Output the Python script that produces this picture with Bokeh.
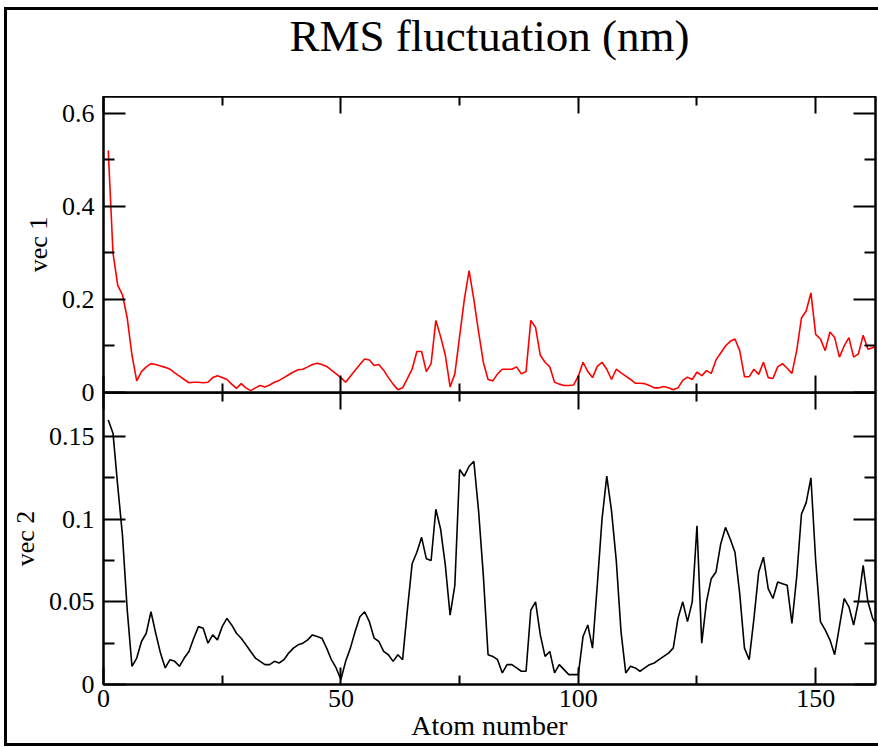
from bokeh.plotting import figure
from bokeh.layouts import column
from bokeh.models import Range1d, LinearAxis, FixedTicker
from bokeh.embed import file_html
from bokeh.resources import INLINE

# ---------------- data ----------------
atoms = list(range(1, 164))

vec1 = [
    0.52, 0.30, 0.23, 0.21, 0.16, 0.08, 0.025, 0.045, 0.055, 0.062,
    0.06, 0.057, 0.054, 0.05, 0.042, 0.035, 0.028, 0.021, 0.022, 0.022,
    0.021, 0.022, 0.032, 0.036, 0.032, 0.028, 0.018, 0.009, 0.019, 0.01,
    0.004, 0.01, 0.015, 0.012, 0.016, 0.022, 0.026, 0.032, 0.038, 0.044,
    0.049, 0.05, 0.055, 0.06, 0.063, 0.06, 0.056, 0.048, 0.04, 0.032,
    0.022, 0.035, 0.048, 0.06, 0.072, 0.07, 0.058, 0.06, 0.048, 0.032,
    0.018, 0.006, 0.01, 0.03, 0.05, 0.088, 0.088, 0.045, 0.062, 0.155,
    0.12, 0.08, 0.012, 0.04, 0.12, 0.2, 0.262, 0.2, 0.13, 0.065,
    0.028, 0.025, 0.04, 0.05, 0.05, 0.05, 0.055, 0.04, 0.045, 0.155,
    0.14, 0.08, 0.065, 0.055, 0.022, 0.018, 0.015, 0.015, 0.016, 0.035,
    0.065, 0.045, 0.032, 0.056, 0.065, 0.05, 0.028, 0.05, 0.042, 0.035,
    0.028, 0.02, 0.02, 0.019, 0.015, 0.01, 0.01, 0.013, 0.01, 0.006,
    0.01, 0.026, 0.033, 0.028, 0.044, 0.036, 0.047, 0.041, 0.07, 0.085,
    0.1, 0.11, 0.115, 0.09, 0.034, 0.034, 0.05, 0.039, 0.065, 0.032,
    0.03, 0.055, 0.062, 0.052, 0.041, 0.09, 0.16, 0.175, 0.214, 0.125,
    0.115, 0.09, 0.13, 0.118, 0.076, 0.1, 0.118, 0.076, 0.083, 0.123,
    0.093, 0.096, 0.103,
]

vec2 = [
    0.16, 0.152, 0.12, 0.09, 0.045, 0.011, 0.016, 0.026, 0.031, 0.044,
    0.031, 0.019, 0.01, 0.015, 0.014, 0.011, 0.016, 0.02, 0.028, 0.035,
    0.034, 0.025, 0.03, 0.027, 0.035, 0.04, 0.036, 0.031, 0.028, 0.024,
    0.02, 0.016, 0.014, 0.012, 0.012, 0.014, 0.013, 0.015, 0.019, 0.022,
    0.024, 0.025, 0.027, 0.03, 0.029, 0.028, 0.022, 0.015, 0.01, 0.003,
    0.014, 0.022, 0.032, 0.041, 0.044, 0.038, 0.028, 0.026, 0.02, 0.018,
    0.014, 0.018, 0.015, 0.045, 0.073, 0.08, 0.089, 0.076, 0.075, 0.106,
    0.094, 0.072, 0.042, 0.06, 0.13, 0.126, 0.132, 0.135, 0.105, 0.066,
    0.018, 0.017, 0.015, 0.007, 0.012, 0.012, 0.01, 0.008, 0.008, 0.045,
    0.05, 0.03, 0.017, 0.02, 0.007, 0.012, 0.009, 0.006, 0.006, 0.006,
    0.029, 0.036, 0.022, 0.06, 0.1, 0.126, 0.105, 0.075, 0.032, 0.007,
    0.011, 0.01, 0.008, 0.01, 0.012, 0.013, 0.015, 0.017, 0.019, 0.022,
    0.04, 0.05, 0.038, 0.05, 0.096, 0.025, 0.05, 0.064, 0.068, 0.085,
    0.095, 0.088, 0.08, 0.055, 0.022, 0.015, 0.04, 0.068, 0.077, 0.058,
    0.052, 0.062, 0.061, 0.06, 0.037, 0.065, 0.103, 0.11, 0.125, 0.075,
    0.038, 0.033, 0.027, 0.018, 0.035, 0.052, 0.047, 0.036, 0.05, 0.072,
    0.05, 0.04, 0.035,
]

x_ticks = [0, 50, 100, 150]
x_minor = [25, 75, 125]
y1_ticks = [0, 0.2, 0.4, 0.6]
y1_minor = [0.1, 0.3, 0.5]
y1_labels = ["0", "0.2", "0.4", "0.6"]
y2_ticks = [0, 0.05, 0.1, 0.15]
y2_minor = [0.025, 0.075, 0.125]
y2_labels = ["0", "0.05", "0.1", "0.15"]

TITLE = "RMS fluctuation (nm)"
XLABEL = "Atom number"
Y1LABEL = "vec 1"
Y2LABEL = "vec 2"

FONT = "Liberation Serif"
TICK_FS = "26px"
LABEL_FS = "26px"

x_range = Range1d(0, 162.6)


def make_axis(ticks, minor, labels, major_in, minor_in, show, label=None):
    ax = LinearAxis(ticker=FixedTicker(ticks=ticks, minor_ticks=minor))
    ax.major_tick_in = major_in
    ax.major_tick_out = 0
    ax.minor_tick_in = minor_in
    ax.minor_tick_out = 0
    ax.axis_line_width = 2
    ax.major_tick_line_width = 2
    ax.minor_tick_line_width = 2
    ax.axis_line_color = "black"
    ax.major_tick_line_color = "black"
    ax.minor_tick_line_color = "black"
    if show:
        ax.major_label_overrides = {t: l for t, l in zip(ticks, labels)}
        ax.major_label_text_font = FONT
        ax.major_label_text_font_size = TICK_FS
        ax.major_label_text_color = "black"
        ax.major_label_standoff = 9
        if label:
            ax.axis_label = label
            ax.axis_label_text_font = FONT
            ax.axis_label_text_font_size = LABEL_FS
            ax.axis_label_text_font_style = "normal"
            ax.axis_label_text_color = "black"
            ax.axis_label_standoff = 6
    else:
        ax.major_label_overrides = {t: "" for t in ticks}
        ax.major_label_text_font_size = "0px"
        ax.major_label_standoff = 0
    return ax


def base_fig(height, y_range, top, bottom):
    p = figure(width=871, height=height, x_range=x_range, y_range=y_range,
               x_axis_type=None, y_axis_type=None,
               output_backend="svg", toolbar_location=None,
               min_border_left=96, min_border_right=3,
               min_border_top=top, min_border_bottom=bottom)
    p.outline_line_color = "black"
    p.outline_line_width = 2
    p.xgrid.visible = False
    p.ygrid.visible = False
    return p


OVERLAP = 14

# ---------------- title strip ----------------
t = figure(width=871, height=86, x_range=Range1d(0, 1), y_range=Range1d(0, 1),
           x_axis_type=None, y_axis_type=None,
           output_backend="svg", toolbar_location=None,
           min_border_left=96, min_border_right=3,
           min_border_top=0, min_border_bottom=0, title=TITLE)
t.outline_line_color = None
t.xgrid.visible = False
t.ygrid.visible = False
t.title.align = "center"
t.title.vertical_align = "top"
t.title.text_font = FONT
t.title.text_font_size = "45px"
t.title.text_font_style = "normal"
t.title.text_color = "black"
t.title.standoff = 0

# ---------------- top panel ----------------
p1 = base_fig(296 + OVERLAP, Range1d(0, 0.636), 0, OVERLAP)
p1.add_layout(make_axis(y1_ticks, y1_minor, y1_labels, 22, 11, True, Y1LABEL), "left")
p1.add_layout(make_axis(y1_ticks, y1_minor, y1_labels, 22, 11, False), "right")
p1.add_layout(make_axis(x_ticks, x_minor, [], 17, 9, False), "above")
p1.add_layout(make_axis(x_ticks, x_minor, [], 17, 9, False), "below")
p1.line(atoms, vec1, line_color="#ff0000", line_width=1.6)

# ---------------- bottom panel (overlaps the top one's lower border) ----------------
p2 = base_fig(351, Range1d(0, 0.1766), 0, 57)
p2.background_fill_alpha = 0
p2.border_fill_alpha = 0
p2.margin = (-OVERLAP, 0, 0, 0)
p2.add_layout(make_axis(y2_ticks, y2_minor, y2_labels, 22, 11, True, Y2LABEL), "left")
p2.add_layout(make_axis(y2_ticks, y2_minor, y2_labels, 22, 11, False), "right")
p2.add_layout(make_axis(x_ticks, x_minor, [], 17, 9, False), "above")
xb = make_axis(x_ticks, x_minor, [str(v) for v in x_ticks], 17, 9, True, XLABEL)
xb.major_label_standoff = 5
xb.axis_label_standoff = 0
xb.axis_label_text_font_size = "28px"
p2.add_layout(xb, "below")
p2.line(atoms, vec2, line_color="black", line_width=1.6)

layout = column(t, p1, p2, spacing=0, margin=(7, 0, 0, 4),
                styles={"border-left": "3px solid black",
                        "border-top": "3px solid black",
                        "border-bottom": "3px solid black",
                        "background-color": "white"})

open("out.html", "w").write(file_html(layout, INLINE))
